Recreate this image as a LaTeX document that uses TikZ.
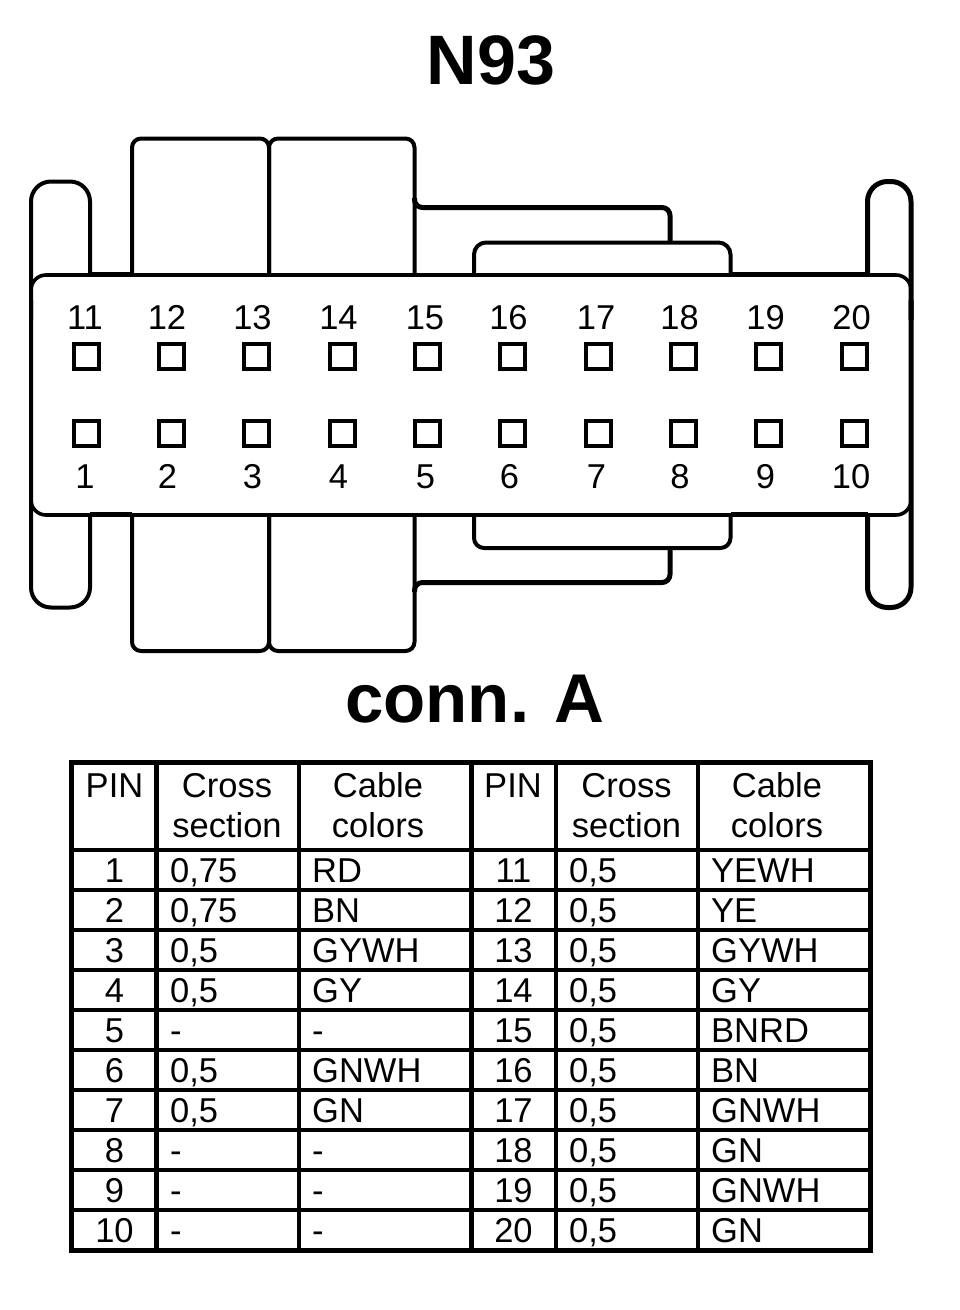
\documentclass[tikz,border=0pt]{standalone}
\usepackage{fontspec}
\setmainfont{Liberation Sans}
\begin{document}
\begin{tikzpicture}[x=1pt,y=-1pt,
  outline/.style={draw=black,line width=4pt,line join=round},
  heavy/.style={draw=black,line width=5pt,line join=round},
  pinbox/.style={draw=black,line width=4pt,minimum size=25pt,inner sep=0pt,outer sep=0pt},
  pinnum/.style={font=\fontsize{34.5}{34.5}\selectfont,inner sep=0pt,anchor=base},
  title/.style={font=\bfseries\fontsize{70}{70}\selectfont,inner sep=0pt,anchor=base},
  subtitle/.style={font=\bfseries\fontsize{69}{69}\selectfont,inner sep=0pt,anchor=base},
  celltxt/.style={font=\fontsize{34.5}{34.5}\selectfont,inner sep=0pt,anchor=base west},
  cellmid/.style={font=\fontsize{34.5}{34.5}\selectfont,inner sep=0pt,anchor=base},
  rule/.style={draw=black,line width=4.3pt},
  frame/.style={draw=black,line width=5pt}]
\useasboundingbox (0,0) rectangle (960,1310);
\fill[white] (0,0) rectangle (960,1310);
% titles
\node[title] (ttl) at (491,84) {N93};
\node[subtitle] (conn) at (475,722) {conn. A};
% tall housing
\draw[outline,rounded corners=9pt] (132,275)--(132,138.5)--(269,138.5)--(269,275);
\draw[outline,rounded corners=9pt] (269,275)--(269,138.5)--(414.5,138.5)--(414.5,275);
\draw[outline,rounded corners=9pt] (132,515)--(132,651)--(269,651)--(269,515);
\draw[outline,rounded corners=9pt] (269,515)--(269,651)--(414.5,651)--(414.5,515);
% steps
\draw[heavy,rounded corners=8pt] (414.5,198)--(414.5,207.5)--(670,207.5)--(670,243);
\draw[outline,rounded corners=12pt] (474,275)--(474,242.5)--(730.5,242.5)--(730.5,275);
\draw[heavy,rounded corners=8pt] (414.5,592)--(414.5,582.5)--(670,582.5)--(670,548);
\draw[outline,rounded corners=10pt] (474,515)--(474,548)--(730.5,548)--(730.5,515);
% body
\draw[draw=black,line width=3.6pt,fill=white,rounded corners=15pt] (31,275)--(911,275)--(911,515)--(31,515)--cycle;
\draw[heavy] (90,274.5)--(132,274.5) (730.5,274.5)--(867.5,274.5);
\draw[heavy] (90,514.5)--(132,514.5) (730.5,514.5)--(867.5,514.5);
% ears, whose outer lines run on into the body's sides
\draw[outline,rounded corners=20pt] (31,320)--(31,181.5)--(90,181.5)--(90,275);
\draw[outline,rounded corners=20pt] (31,300)--(31,607.5)--(90,607.5)--(90,515);
\draw[heavy,rounded corners=20pt] (911,320)--(911,181.5)--(867.5,181.5)--(867.5,275);
\draw[heavy,rounded corners=20pt] (911,300)--(911,607.5)--(867.5,607.5)--(867.5,515);
% pins
\foreach \n/\x/\lx in {11/86/85,12/171/167,13/256.5/252.5,14/342/338.5,15/427/425,16/512.5/508.5,17/598/596,18/683.5/679.5,19/768.5/765.5,20/854/851.5}
  {\node[pinbox] (boxt\n) at (\x,356.5) {};
   \node[pinnum] (numt\n) at (\lx,329) {\n};}
\foreach \n/\x/\lx in {1/86/85,2/171/167.5,3/256.5/252.5,4/342/338.5,5/427/425.5,6/512.5/509.5,7/598/596.5,8/683.5/680,9/768.5/765.5,10/854/851}
  {\node[pinbox] (boxb\n) at (\x,433.5) {};
   \node[pinnum] (numb\n) at (\lx,488) {\n};}
% table
\foreach \y in {850,890,930,970,1010,1050,1090,1130,1170,1210}
  \draw[rule] (71,\y)--(871,\y);
\foreach \x in {156.5,299,471.5,556,698}
  \draw[rule] (\x,762.5)--(\x,1250.5);
\draw[frame] (71.5,762.5) rectangle (870.5,1250.5);
% header
\foreach \ox/\px/\cxa/\cxb in {0/114.5/227/378,1/513/626.5/777}
  {\node[cellmid] (hp\ox) at (\px,797) {PIN};
   \node[cellmid] (hc\ox) at (\cxa,797) {Cross};
   \node[cellmid] (hs\ox) at (\cxa,837) {section};
   \node[cellmid] (hk\ox) at (\cxb,797) {Cable};
   \node[cellmid] (hl\ox) at (\cxb,837) {colors};}
% rows
\foreach \i/\a/\ac/\ak/\b/\bc/\bk in {
 0/1/{0,75}/RD/11/{0,5}/YEWH,
 1/2/{0,75}/BN/12/{0,5}/YE,
 2/3/{0,5}/GYWH/13/{0,5}/GYWH,
 3/4/{0,5}/GY/14/{0,5}/GY,
 4/5/{-}/{-}/15/{0,5}/BNRD,
 5/6/{0,5}/GNWH/16/{0,5}/BN,
 6/7/{0,5}/GN/17/{0,5}/GNWH,
 7/8/{-}/{-}/18/{0,5}/GN,
 8/9/{-}/{-}/19/{0,5}/GNWH,
 9/10/{-}/{-}/20/{0,5}/GN}
{
  \pgfmathsetmacro{\by}{882.5+40*\i}
  \node[cellmid] (pa\a) at (114.5,\by) {\a};
  \node[celltxt] (sa\a) at (170,\by) {\ac};
  \node[celltxt] (ca\a) at (312,\by) {\ak};
  \node[cellmid] (pb\b) at (513.5,\by) {\b};
  \node[celltxt] (sb\b) at (569,\by) {\bc};
  \node[celltxt] (cb\b) at (711,\by) {\bk};
}
\end{tikzpicture}
\end{document}
